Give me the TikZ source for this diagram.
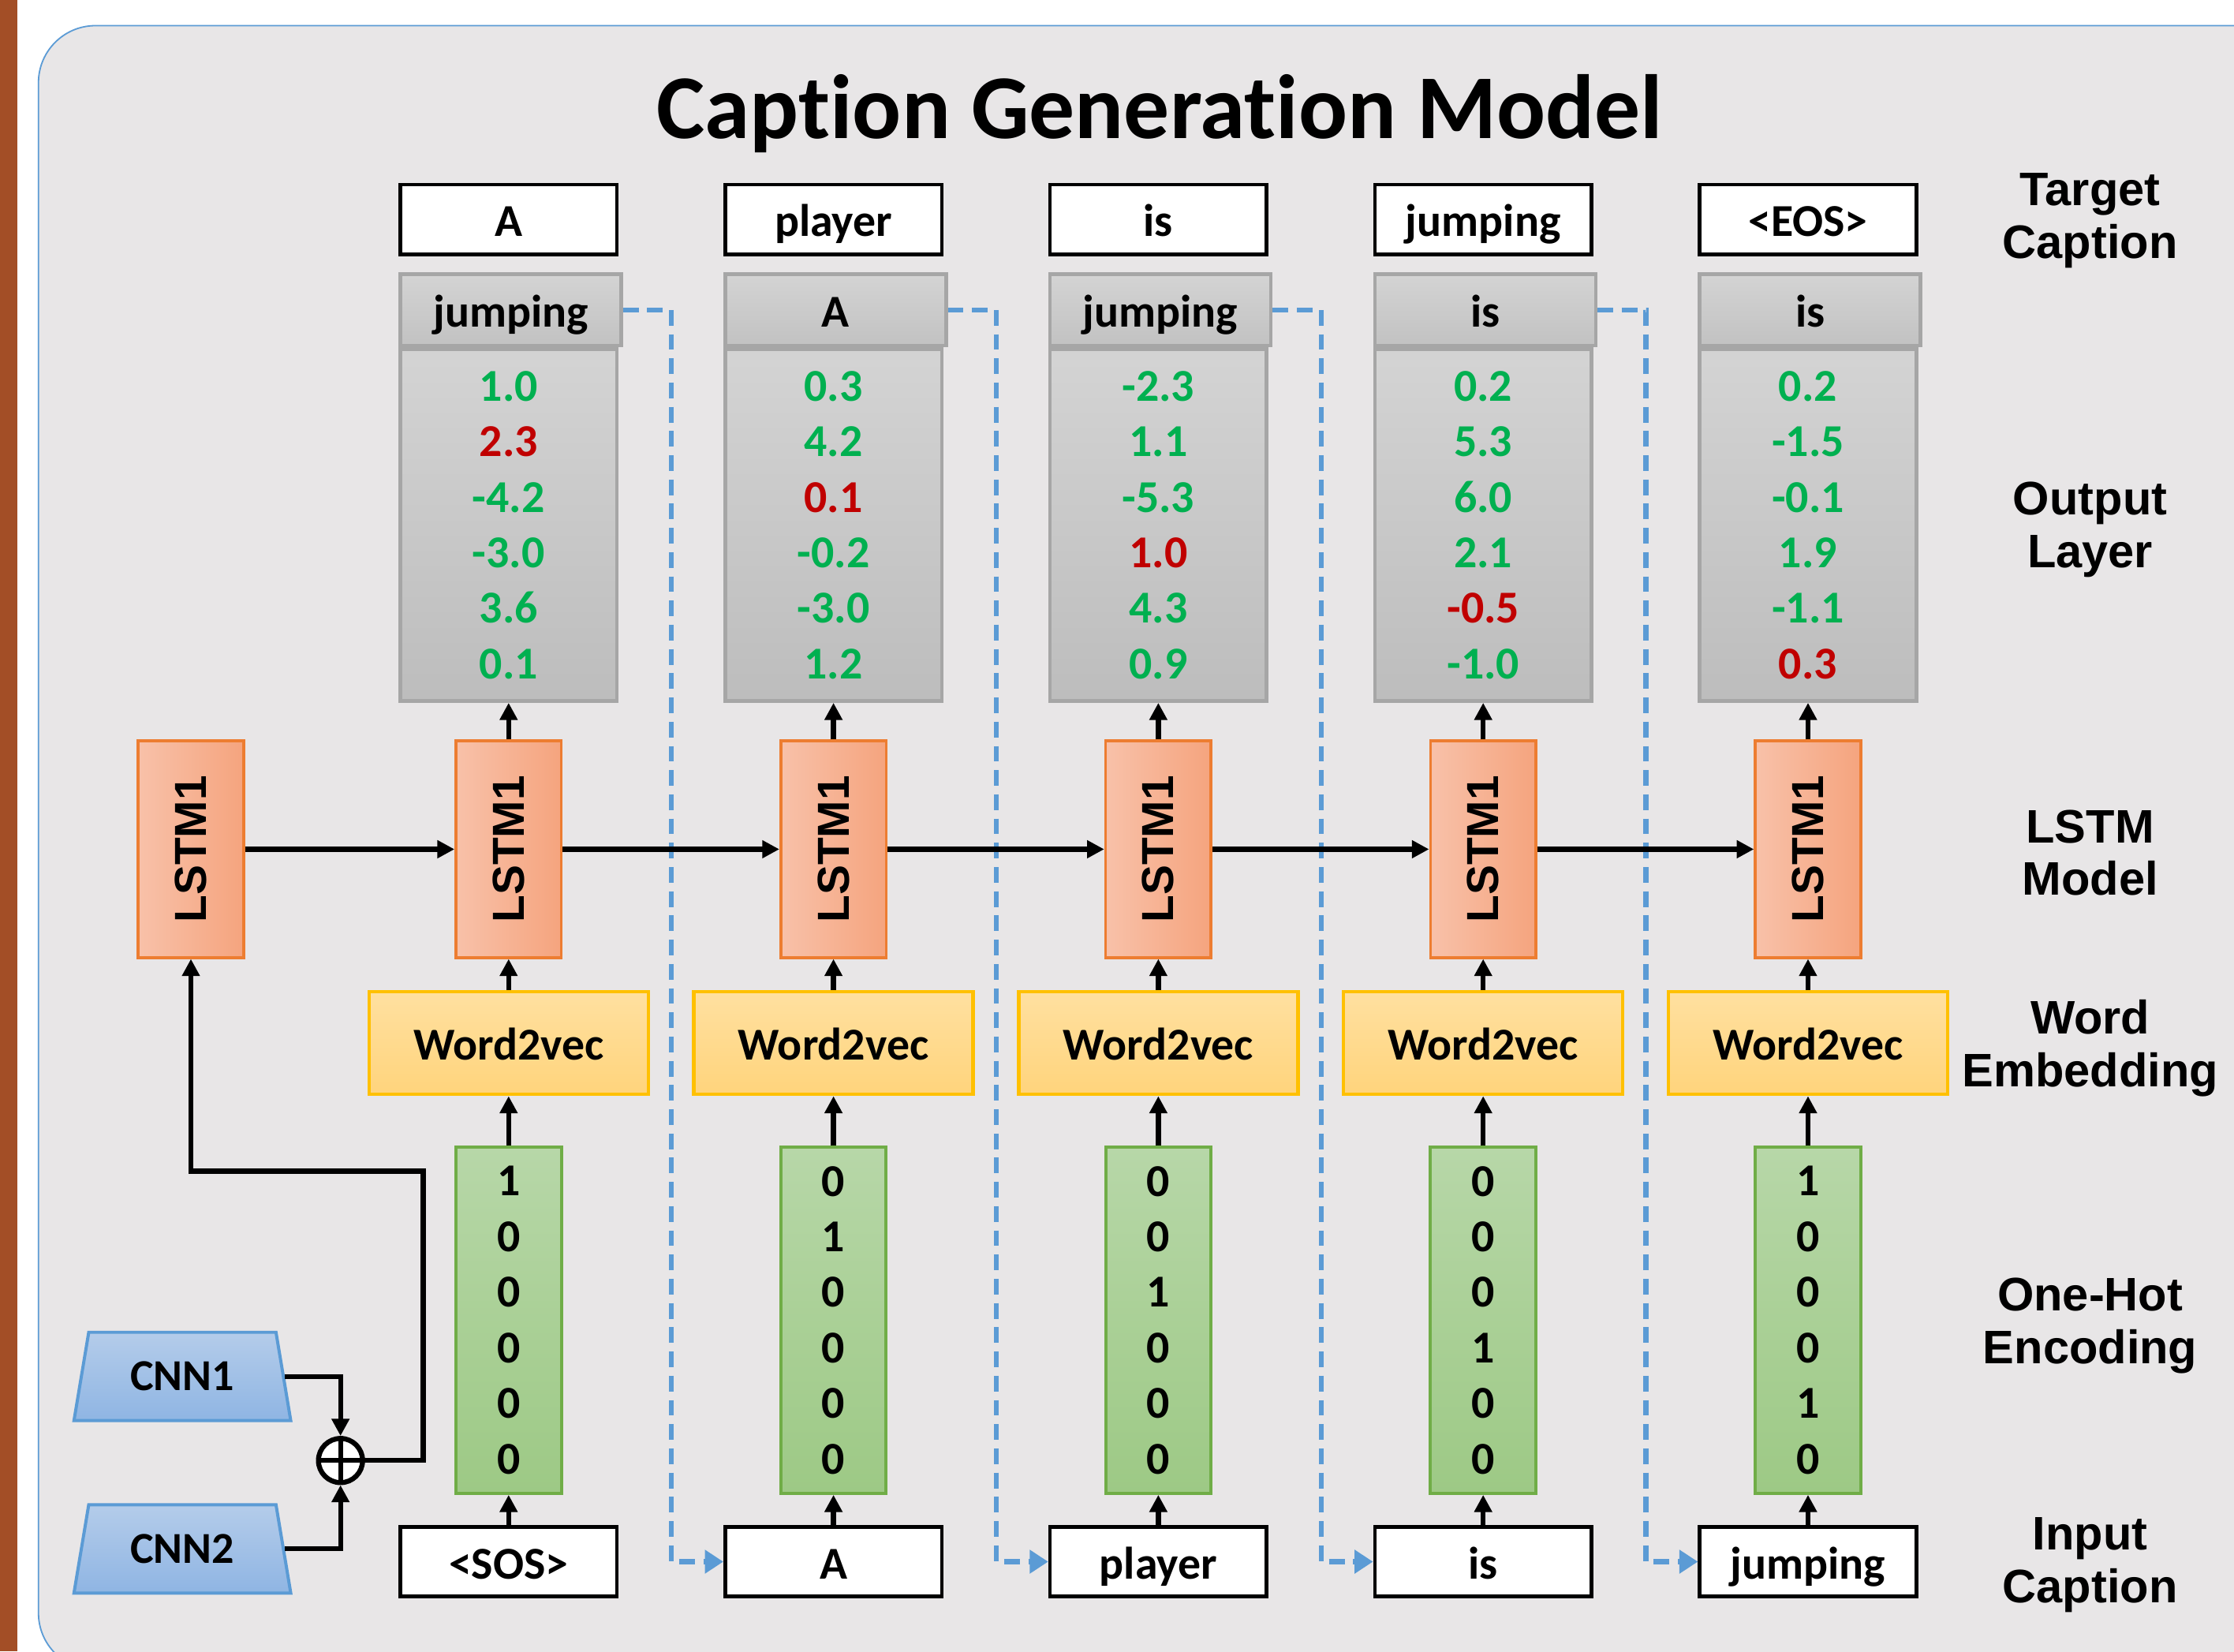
\documentclass[tikz,border=0pt]{standalone}
\usepackage{fontspec}
\usepackage{graphicx}
\setmainfont{Carlito}[Ligatures=NoCommon]
\newfontfamily\labelfont{Liberation Sans}
\usetikzlibrary{arrows.meta,shapes.geometric}

\definecolor{panelgray}{HTML}{E8E6E7}
\definecolor{panelline}{HTML}{5B9BD5}
\definecolor{barbrown}{HTML}{A34E26}
\definecolor{valgreen}{HTML}{00B050}
\definecolor{valred}{HTML}{C00000}
\definecolor{outgray}{HTML}{A6A6A6}
\definecolor{lstmline}{HTML}{ED7D31}
\definecolor{wordline}{HTML}{FFC000}
\definecolor{hotline}{HTML}{70AD47}
\definecolor{cnnline}{HTML}{5B9BD5}

\newcommand{\gval}[1]{\textcolor{valgreen}{#1}}
\newcommand{\rval}[1]{\textcolor{valred}{#1}}

\tikzset{
  word/.style={draw=black, line width=2.6pt, fill=white, minimum width=152pt, minimum height=49pt,
    inner sep=0pt, font=\fontsize{32}{39}\selectfont\bfseries, text height=26pt, text depth=2pt},
  outhead/.style={draw=outgray, line width=2.5pt, top color=black!17, bottom color=black!24,
    minimum width=155pt, minimum height=50pt, inner sep=0pt,
    font=\fontsize{32}{39}\selectfont\bfseries, text height=26pt, text depth=2pt},
  outbody/.style={draw=outgray, line width=2.5pt, top color=black!17, bottom color=black!26,
    minimum width=152pt, minimum height=247pt, align=center, font=\fontsize{32}{39}\selectfont\bfseries},
  lstm/.style={draw=lstmline, line width=2pt, left color={rgb,255:red,248;green,193;blue,169},
    right color={rgb,255:red,245;green,164;blue,126}, minimum width=74pt, minimum height=152pt,
    inner sep=0pt, font=\labelfont\fontsize{31.5}{31.5}\selectfont\bfseries},
  w2v/.style={draw=wordline, line width=2.5pt, top color={rgb,255:red,255;green,224;blue,160},
    bottom color={rgb,255:red,255;green,212;blue,124}, minimum width=196pt, minimum height=72pt,
    inner sep=0pt, font=\fontsize{32}{39}\selectfont\bfseries, text height=26pt, text depth=2pt},
  onehot/.style={draw=hotline, line width=2.2pt, top color={rgb,255:red,183;green,215;blue,168},
    bottom color={rgb,255:red,157;green,201;blue,133}, minimum width=74pt, minimum height=243pt,
    align=center, font=\fontsize{32}{39}\selectfont\bfseries},
  cnn/.style={trapezium, trapezium angle=77, trapezium stretches=true, minimum width=153pt,
    minimum height=62pt, draw=cnnline, line width=2.2pt, top color={rgb,255:red,180;green,204;blue,234},
    bottom color={rgb,255:red,143;green,181;blue,227}, font=\fontsize{31}{31}\selectfont\bfseries},
  addnode/.style={draw, circle, line width=3.5pt, fill=white, minimum size=31pt, inner sep=0pt},
  layer/.style={font=\labelfont\fontsize{33}{37}\selectfont\bfseries, align=center},
  arr/.style={line width=3.5pt, -{Triangle[length=12pt,width=12pt]}},
  feedback/.style={draw=panelline, line width=3.5pt, dash pattern=on 11pt off 6pt,
    -{Triangle[length=13pt,width=16pt]}}
}

\begin{document}
\begin{tikzpicture}[x=1pt, y=-1pt]
    % Page, side bar and panel
    \useasboundingbox (0,0) rectangle (1568,1159);
    \fill[white] (0,0) rectangle (1568,1159);
    \fill[barbrown] (0,0) rectangle (12,1159);
    \draw[panelline, fill=panelgray, line width=1pt, rounded corners=40pt] (27,18) rectangle (1620,1172);

    % Title
    \node[anchor=base, font=\fontsize{64}{64}\selectfont\bfseries] (title) at (814,97) {Caption Generation Model};

    % Target caption
    \node[word] (tgt1) at (357,154) {A};
    \node[word] (tgt2) at (585,154) {player};
    \node[word] (tgt3) at (813,154) {is};
    \node[word] (tgt4) at (1041,154) {jumping};
    \node[word] (tgt5) at (1269,154) {<EOS>};

    % Output layer scores
    \node[outbody] (out1) at (357,368.5) {\gval{1.0}\\\rval{2.3}\\\gval{-4.2}\\\gval{-3.0}\\\gval{3.6}\\\gval{0.1}};
    \node[outbody] (out2) at (585,368.5) {\gval{0.3}\\\gval{4.2}\\\rval{0.1}\\\gval{-0.2}\\\gval{-3.0}\\\gval{1.2}};
    \node[outbody] (out3) at (813,368.5) {\gval{-2.3}\\\gval{1.1}\\\gval{-5.3}\\\rval{1.0}\\\gval{4.3}\\\gval{0.9}};
    \node[outbody] (out4) at (1041,368.5) {\gval{0.2}\\\gval{5.3}\\\gval{6.0}\\\gval{2.1}\\\rval{-0.5}\\\gval{-1.0}};
    \node[outbody] (out5) at (1269,368.5) {\gval{0.2}\\\gval{-1.5}\\\gval{-0.1}\\\gval{1.9}\\\gval{-1.1}\\\rval{0.3}};

    % Predicted word on top of each score column
    \node[outhead, anchor=south west] (head1) at (out1.north west) {jumping};
    \node[outhead, anchor=south west] (head2) at (out2.north west) {A};
    \node[outhead, anchor=south west] (head3) at (out3.north west) {jumping};
    \node[outhead, anchor=south west] (head4) at (out4.north west) {is};
    \node[outhead, anchor=south west] (head5) at (out5.north west) {is};

    % LSTM cells
    \node[lstm] (lstm0) at (134,596) {\rotatebox{90}{LSTM1}};
    \node[lstm] (lstm1) at (357,596) {\rotatebox{90}{LSTM1}};
    \node[lstm] (lstm2) at (585,596) {\rotatebox{90}{LSTM1}};
    \node[lstm] (lstm3) at (813,596) {\rotatebox{90}{LSTM1}};
    \node[lstm] (lstm4) at (1041,596) {\rotatebox{90}{LSTM1}};
    \node[lstm] (lstm5) at (1269,596) {\rotatebox{90}{LSTM1}};

    % Word embedding
    \node[w2v] (w2v1) at (357,732) {Word2vec};
    \node[w2v] (w2v2) at (585,732) {Word2vec};
    \node[w2v] (w2v3) at (813,732) {Word2vec};
    \node[w2v] (w2v4) at (1041,732) {Word2vec};
    \node[w2v] (w2v5) at (1269,732) {Word2vec};

    % One-hot vectors
    \node[onehot] (hot1) at (357,926.5) {1\\0\\0\\0\\0\\0};
    \node[onehot] (hot2) at (585,926.5) {0\\1\\0\\0\\0\\0};
    \node[onehot] (hot3) at (813,926.5) {0\\0\\1\\0\\0\\0};
    \node[onehot] (hot4) at (1041,926.5) {0\\0\\0\\1\\0\\0};
    \node[onehot] (hot5) at (1269,926.5) {1\\0\\0\\0\\1\\0};

    % Input caption
    \node[word] (in1) at (357,1096) {<SOS>};
    \node[word] (in2) at (585,1096) {A};
    \node[word] (in3) at (813,1096) {player};
    \node[word] (in4) at (1041,1096) {is};
    \node[word] (in5) at (1269,1096) {jumping};

    % Image features
    \node[cnn] (cnn1) at (128,966) {CNN1};
    \node[cnn] (cnn2) at (128,1087) {CNN2};
    \node[addnode] (sum) at (239,1025) {};
    \draw[line width=3.5pt] (sum.north) -- (sum.south) (sum.west) -- (sum.east);
    \coordinate (imgbend) at (297,822);

    % Feedback of predicted words
    \draw[feedback] (head1.east) -- ++(34,0) |- (in2.west);
    \draw[feedback] (head2.east) -- ++(34,0) |- (in3.west);
    \draw[feedback] (head3.east) -- ++(34,0) |- (in4.west);
    \draw[feedback] (head4.east) -- ++(34,0) |- (in5.west);

    % Data flow
    \draw[arr] (cnn1.east) -| (sum.north);
    \draw[arr] (cnn2.east) -| (sum.south);
    \draw[arr] (sum.east) -| (imgbend) -| (lstm0.south);
    \draw[arr] (lstm0) -- (lstm1);
    \draw[arr] (lstm1) -- (lstm2);
    \draw[arr] (lstm2) -- (lstm3);
    \draw[arr] (lstm3) -- (lstm4);
    \draw[arr] (lstm4) -- (lstm5);
    \draw[arr] (in1) -- (hot1);  \draw[arr] (hot1) -- (w2v1);  \draw[arr] (w2v1) -- (lstm1);  \draw[arr] (lstm1) -- (out1);
    \draw[arr] (in2) -- (hot2);  \draw[arr] (hot2) -- (w2v2);  \draw[arr] (w2v2) -- (lstm2);  \draw[arr] (lstm2) -- (out2);
    \draw[arr] (in3) -- (hot3);  \draw[arr] (hot3) -- (w2v3);  \draw[arr] (w2v3) -- (lstm3);  \draw[arr] (lstm3) -- (out3);
    \draw[arr] (in4) -- (hot4);  \draw[arr] (hot4) -- (w2v4);  \draw[arr] (w2v4) -- (lstm4);  \draw[arr] (lstm4) -- (out4);
    \draw[arr] (in5) -- (hot5);  \draw[arr] (hot5) -- (w2v5);  \draw[arr] (w2v5) -- (lstm5);  \draw[arr] (lstm5) -- (out5);

    % Layer names
    \node[layer] (lblTarget) at (1467,155) {Target\\Caption};
    \node[layer] (lblOutput) at (1467,371.5) {Output\\Layer};
    \node[layer] (lblLstm) at (1467,598.5) {LSTM\\Model};
    \node[layer] (lblEmbed) at (1467,735.5) {Word\\Embedding};
    \node[layer] (lblHot) at (1467,930.5) {One-Hot\\Encoding};
    \node[layer] (lblInput) at (1467,1098.5) {Input\\Caption};
\end{tikzpicture}
\end{document}
